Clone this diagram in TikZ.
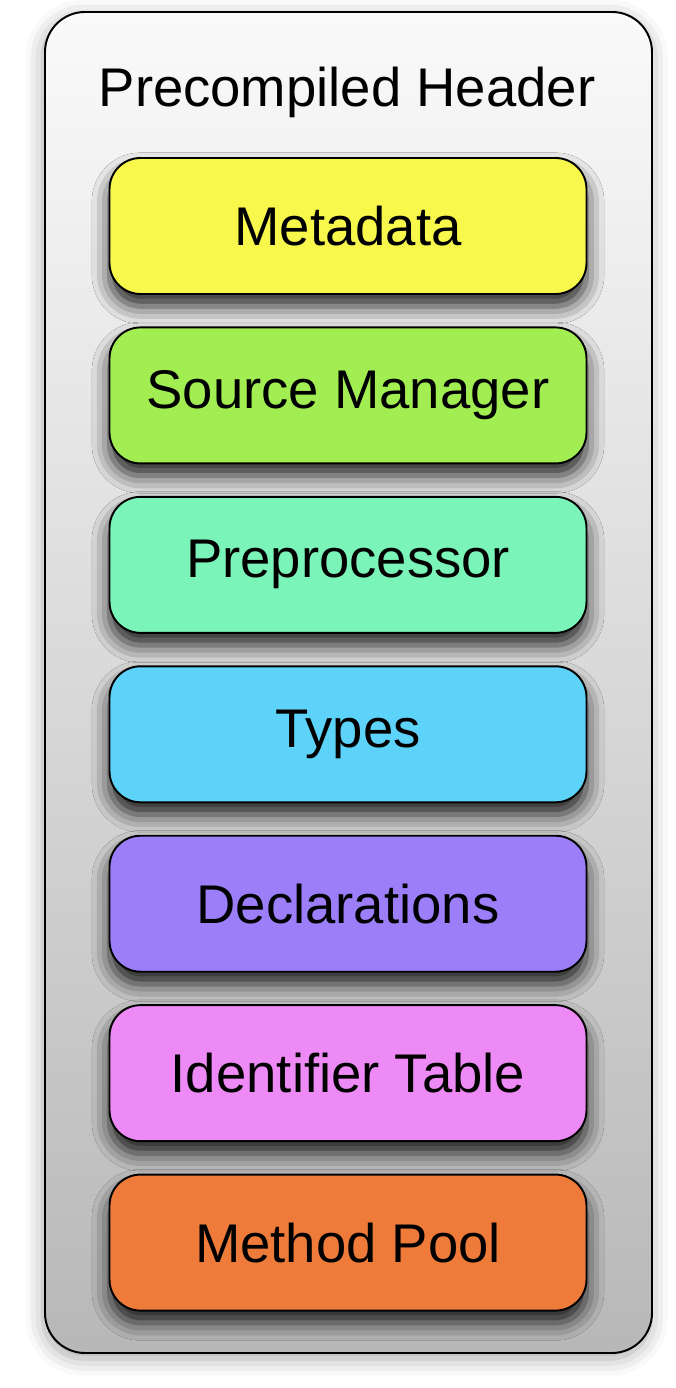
\documentclass[tikz,border=0pt]{standalone}
\usepackage{fontspec}
\setmainfont{Liberation Sans}
\usetikzlibrary{positioning,shadows.blur}

\definecolor{metaclr}{HTML}{F8F84C}
\definecolor{srcclr}{HTML}{A2EE52}
\definecolor{ppclr}{HTML}{7AF4B8}
\definecolor{typeclr}{HTML}{5DD3FA}
\definecolor{declclr}{HTML}{9B7EF8}
\definecolor{identclr}{HTML}{EE8AF5}
\definecolor{poolclr}{HTML}{EE7B3A}

\tikzset{
    layer/.style={draw=black, line width=1.1pt, rounded corners=0.62cm,
        minimum width=9.54cm, minimum height=2.72cm,
        font=\fontsize{31}{36}\selectfont,
        blur shadow={shadow xshift=0pt, shadow yshift=-7pt,
            shadow blur radius=10pt, shadow opacity=85}}
}

\begin{document}
\begin{tikzpicture}[node distance=0.63cm]

\useasboundingbox (0,0) rectangle (13.52,27.76);

% Outer box
\node[draw=black, line width=1.1pt, rounded corners=0.8cm,
      top color=black!2, bottom color=black!28,
      minimum width=12.14cm, minimum height=26.82cm,
      blur shadow={shadow xshift=-1pt, shadow yshift=-3pt,
          shadow blur radius=10pt, shadow opacity=35}]
      (pch) at (6.97,14.11) {};

% Title
\node[font=\fontsize{31}{36}\selectfont] (title) at (6.94,25.92) {Precompiled Header};

% Blocks
\node[layer, fill=metaclr] (meta) at (6.96,23.24) {Metadata};
\node[layer, fill=srcclr, below=of meta] (srcmgr) {Source Manager};
\node[layer, fill=ppclr, below=of srcmgr] (pp) {Preprocessor};
\node[layer, fill=typeclr, below=of pp] (types) {Types};
\node[layer, fill=declclr, below=of types] (decls) {Declarations};
\node[layer, fill=identclr, below=of decls] (idtable) {Identifier Table};
\node[layer, fill=poolclr, below=of idtable] (pool) {Method Pool};

\end{tikzpicture}
\end{document}
